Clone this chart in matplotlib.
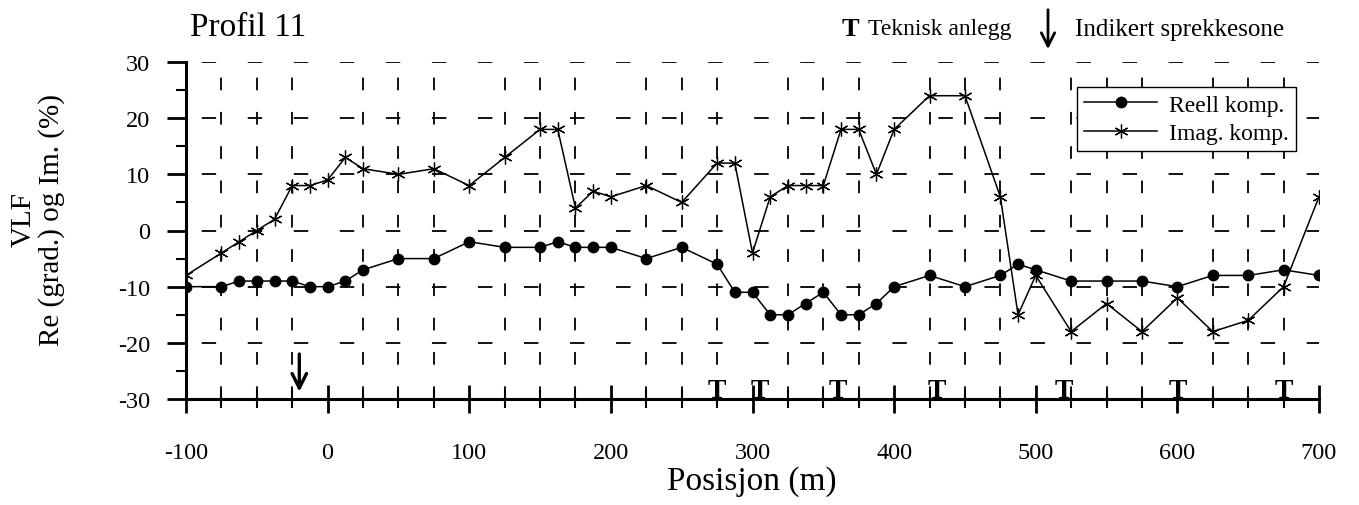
import matplotlib
matplotlib.use("Agg")
import matplotlib.pyplot as plt
from matplotlib.ticker import MultipleLocator

plt.rcParams["font.family"] = ["Liberation Serif", "DejaVu Serif"]
plt.rcParams["axes.unicode_minus"] = False

# positions (m)
pos = [-100, -75, -62.5, -50, -37.5, -25, -12.5, 0, 12.5, 25, 50, 75, 100, 125, 150,
       162.5, 175, 187.5, 200, 225, 250, 275, 287.5, 300, 312.5, 325, 337.5, 350,
       362.5, 375, 387.5, 400, 425, 450, 475, 487.5, 500, 525, 550, 575, 600, 625,
       650, 675, 700]
reell = [-10, -10, -9, -9, -9, -9, -10, -10, -9, -7, -5, -5, -2, -3, -3,
         -2, -3, -3, -3, -5, -3, -6, -11, -11, -15, -15, -13, -11,
         -15, -15, -13, -10, -8, -10, -8, -6, -7, -9, -9, -9, -10, -8,
         -8, -7, -8]
imag = [-8, -4, -2, 0, 2, 8, 8, 9, 13, 11, 10, 11, 8, 13, 18,
        18, 4, 7, 6, 8, 5, 12, 12, -4, 6, 8, 8, 8,
        18, 18, 10, 18, 24, 24, 6, -15, -8, -18, -13, -18, -12, -18,
        -16, -10, 6]
tek_pos = [275, 305, 360, 430, 520, 600, 675]
sprekk_pos = [-20]

W, H = 1359, 506
fig = plt.figure(figsize=(W / 100, H / 100), dpi=100)
ax = fig.add_axes([186 / W, 1 - 400 / H, (1319 - 186) / W, (400 - 63) / H])

ax.plot(pos, reell, color="black", lw=1.1, marker="o", ms=7.5, label="Reell komp.")
ax.plot(pos, imag, color="black", lw=1.1, marker=(6, 2, 0), ms=10, mew=0.9,
        label="Imag. komp.")

ax.set_xlim(-100, 700)
ax.set_ylim(-30, 30)
ax.xaxis.set_major_locator(MultipleLocator(100))
ax.xaxis.set_minor_locator(MultipleLocator(25))
ax.yaxis.set_major_locator(MultipleLocator(10))
ax.yaxis.set_minor_locator(MultipleLocator(5))

for s in ("top", "right"):
    ax.spines[s].set_visible(False)
for s in ("left", "bottom"):
    ax.spines[s].set_linewidth(2.2)

ax.tick_params(axis="x", which="major", direction="inout", length=20, width=2, labelsize=17.5, pad=21)
ax.tick_params(axis="x", which="minor", direction="inout", length=13, width=1.5)
ax.tick_params(axis="y", which="major", direction="out", length=14, width=2, labelsize=17.5, pad=12)
ax.tick_params(axis="y", which="minor", direction="out", length=7, width=1.5)

ax.grid(True, axis="x", which="minor", color="black", lw=1.3, ls=(0, (7, 12)))
ax.grid(True, axis="y", which="major", color="black", lw=1.3, ls=(16.8, (8, 17.5)))

fig.text(752 / W, 1 - 482 / H, "Posisjon (m)", fontsize=24, ha="center", va="center")
fig.text(38 / W, 1 - 220 / H, "VLF\nRe (grad.) og Im. (%)", fontsize=21, rotation=90,
         ha="center", va="center", multialignment="center", linespacing=1.05)

for x in tek_pos:
    ax.text(x, -29.6, "T", ha="center", va="baseline", fontsize=20, fontweight="bold")
for x in sprekk_pos:
    ax.annotate("", xy=(x, -29.2), xytext=(x, -21.5),
                arrowprops=dict(arrowstyle="->", lw=2.4, color="black", mutation_scale=26))

leg = ax.legend(loc="upper right", bbox_to_anchor=(1296 / W, 1 - 88 / H),
                bbox_transform=fig.transFigure, borderaxespad=0, fontsize=17,
                frameon=True, fancybox=False, edgecolor="black", framealpha=1,
                handlelength=3.1, handletextpad=0.5, borderpad=0.3, labelspacing=0.3)
leg.get_frame().set_linewidth(1.0)

fig.text(190 / W, 1 - 28 / H, "Profil 11", fontsize=24, ha="left", va="center")
fig.text(850 / W, 1 - 30 / H, "T", fontsize=19, fontweight="bold", ha="center", va="center")
fig.text(868 / W, 1 - 30 / H, "Teknisk anlegg", fontsize=17, ha="left", va="center")
fig.text(1075 / W, 1 - 30 / H, "Indikert sprekkesone", fontsize=18, ha="left", va="center")
fig.add_artist(plt.Annotation("", xy=(1048 / W, 1 - 53 / H), xytext=(1048 / W, 1 - 8 / H),
               xycoords="figure fraction",
               arrowprops=dict(arrowstyle="->", lw=2.0, color="black", mutation_scale=24)))

fig.savefig("out.png", dpi=100)
